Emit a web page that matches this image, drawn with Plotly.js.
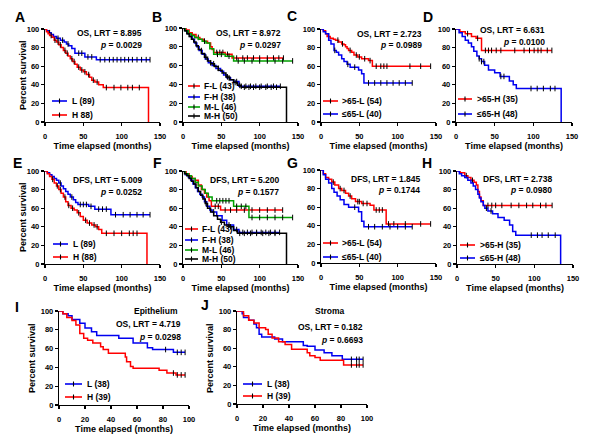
<!DOCTYPE html>
<html>
<head>
<meta charset="utf-8">
<script src="https://cdn.plot.ly/plotly-3.0.1.min.js"></script>
<style>
  html, body { margin: 0; padding: 0; background: #fff; }
  #chart { width: 600px; height: 439px; }
</style>
</head>
<body>
<div id="chart"></div>
<script>
// Kaplan-Meier step curves: time (months) / survival (%) / censor times

// A - OS, L vs H
const A_L_t = [0, 2, 5, 8, 11, 15, 20, 25, 28, 31, 35, 39, 52, 67, 137];
const A_L_s = [100, 98, 96, 94, 92, 90, 88, 86, 84, 82, 79, 74, 70, 67, 67];
const A_L_c = [6, 17, 23, 30, 44, 48, 56, 61, 72, 78, 84, 89, 94, 99, 104, 109, 114, 120, 126, 132, 137];
const A_H_t = [0, 2, 4, 6, 9, 12, 15, 18, 21, 24, 27, 30, 33, 36, 39, 42, 46, 50, 54, 58, 61, 65, 70, 76, 135];
const A_H_s = [100, 97, 95, 93, 91, 88, 86, 83, 80, 77, 74, 71, 68, 65, 62, 59, 56, 54, 51, 48, 45, 43, 40, 37, 0];
const A_H_c = [8, 13, 17, 20, 26, 29, 35, 38, 44, 48, 52, 57, 63, 68, 80, 90, 99, 108, 114, 123];

// B - OS, sex x level
const B_FL_t = [0, 4, 8, 12, 17, 22, 27, 32, 36, 38, 40, 55, 64, 131];
const B_FL_s = [100, 98, 95, 93, 90, 88, 86, 84, 80, 77, 74, 72, 68, 68];
const B_FL_c = [20, 44, 48, 52, 58, 70, 78, 84, 92, 100, 110, 118, 125, 131];
const B_FH_t = [0, 3, 6, 9, 12, 15, 18, 21, 25, 29, 33, 38, 43, 49, 53, 57, 62, 66, 73, 127];
const B_FH_s = [100, 97, 94, 91, 88, 84, 80, 76, 72, 67, 63, 60, 57, 54, 50, 47, 45, 43, 38, 38];
const B_FH_c = [24, 36, 46, 60, 70, 76, 82, 88, 95, 102, 110, 118, 127];
const B_ML_t = [0, 3, 7, 11, 15, 20, 25, 30, 35, 40, 55, 66, 143];
const B_ML_s = [100, 97, 94, 92, 90, 88, 86, 84, 78, 72, 70, 65, 65];
const B_ML_c = [28, 45, 50, 60, 72, 80, 90, 100, 110, 120, 130, 143];
const B_MH_t = [0, 2, 5, 8, 11, 14, 17, 20, 24, 28, 32, 36, 41, 46, 51, 56, 61, 66, 71, 76, 135];
const B_MH_s = [100, 97, 94, 91, 88, 85, 81, 77, 73, 69, 65, 62, 59, 55, 52, 48, 45, 42, 39, 37, 0];
const B_MH_c = [30, 40, 58, 68, 74, 80, 86, 92, 100, 108, 115, 122];

// C - OS, age within L
const C_R_t = [0, 3, 6, 8, 12, 16, 19, 23, 27, 30, 32, 34, 36, 40, 43, 48, 53, 62, 67, 143];
const C_R_s = [100, 98, 95, 92, 90, 89, 88, 86, 84, 83, 81, 79, 77, 75, 72, 70, 68, 66, 60, 60];
const C_R_c = [10, 22, 28, 38, 46, 50, 57, 64, 72, 78, 82, 86, 116, 130, 143];
const C_B_t = [0, 3, 6, 10, 13, 17, 20, 23, 27, 30, 34, 38, 49, 53, 56, 119];
const C_B_s = [100, 97, 95, 88, 84, 77, 75, 72, 68, 65, 62, 59, 56, 52, 42, 42];
const C_B_c = [18, 35, 44, 62, 70, 78, 86, 94, 102, 110, 119];

// D - OS, age within H
const D_R_t = [0, 5, 12, 20, 26, 33, 124];
const D_R_s = [100, 97, 95, 92, 90, 77, 77];
const D_R_c = [15, 28, 38, 42, 46, 52, 58, 76, 88, 95, 101, 106, 110, 118, 124];
const D_B_t = [0, 4, 8, 12, 16, 20, 23, 27, 30, 33, 37, 42, 50, 57, 69, 74, 78, 136];
const D_B_s = [100, 96, 92, 88, 85, 81, 76, 71, 68, 65, 61, 56, 53, 49, 44, 40, 36, 0];
const D_B_c = [30, 33, 36, 58, 62, 97, 105, 113, 122, 128];

// E - DFS, L vs H
const E_L_t = [0, 3, 6, 9, 12, 15, 18, 21, 24, 27, 30, 33, 37, 40, 43, 57, 65, 86, 137];
const E_L_s = [100, 98, 96, 94, 92, 90, 87, 84, 81, 78, 75, 72, 69, 66, 64, 62, 59, 53, 53];
const E_L_c = [20, 35, 46, 50, 54, 60, 70, 75, 80, 92, 102, 111, 120, 128, 137];
const E_H_t = [0, 3, 6, 9, 12, 15, 18, 21, 24, 27, 30, 34, 38, 42, 46, 50, 55, 61, 66, 70, 74, 133];
const E_H_s = [100, 97, 94, 91, 87, 84, 80, 76, 72, 67, 63, 60, 58, 55, 51, 47, 44, 42, 40, 37, 33, 0];
const E_H_c = [10, 16, 20, 26, 31, 36, 44, 53, 58, 64, 68, 80, 90, 100, 110, 115, 120];

// F - DFS, sex x level
const F_FL_t = [0, 4, 8, 12, 16, 20, 24, 28, 31, 34, 37, 49, 130];
const F_FL_s = [100, 97, 94, 92, 90, 85, 80, 76, 72, 68, 62, 58, 58];
const F_FL_c = [42, 46, 55, 62, 70, 80, 90, 100, 110, 120, 130];
const F_FH_t = [0, 3, 7, 10, 13, 16, 19, 22, 25, 28, 31, 35, 38, 44, 51, 57, 66, 73, 126];
const F_FH_s = [100, 96, 93, 90, 86, 82, 78, 75, 72, 67, 62, 58, 56, 52, 47, 42, 37, 34, 34];
const F_FH_c = [40, 60, 70, 78, 84, 90, 96, 102, 108, 114, 120, 126];
const F_ML_t = [0, 3, 7, 11, 16, 20, 25, 29, 33, 38, 66, 86, 143];
const F_ML_s = [100, 97, 95, 92, 88, 84, 80, 76, 72, 68, 62, 50, 50];
const F_ML_c = [44, 48, 52, 56, 60, 70, 76, 82, 90, 100, 110, 120, 130, 143];
const F_MH_t = [0, 2, 5, 8, 11, 14, 17, 20, 23, 26, 29, 32, 36, 40, 45, 49, 54, 60, 66, 71, 135];
const F_MH_s = [100, 97, 95, 92, 89, 86, 82, 78, 74, 70, 65, 60, 56, 52, 48, 45, 42, 40, 36, 33, 0];
const F_MH_c = [30, 50, 62, 74, 80, 88, 96, 104, 112, 120];

// G - DFS, age within L
const G_R_t = [0, 3, 6, 10, 14, 18, 23, 27, 32, 36, 40, 45, 53, 64, 69, 85, 143];
const G_R_s = [100, 96, 92, 90, 87, 84, 80, 78, 75, 72, 69, 66, 64, 62, 57, 42, 42];
const G_R_c = [16, 25, 30, 38, 48, 50, 55, 60, 72, 76, 80, 88, 95, 110, 130, 143];
const G_B_t = [0, 3, 6, 10, 14, 17, 21, 25, 30, 36, 49, 53, 56, 119];
const G_B_s = [100, 95, 90, 86, 80, 76, 72, 68, 63, 60, 55, 45, 39, 39];
const G_B_c = [44, 62, 70, 80, 90, 100, 110, 119];

// H - DFS, age within H
const H_R_t = [0, 4, 10, 14, 18, 22, 25, 27, 29, 31, 34, 123];
const H_R_s = [100, 98, 95, 93, 90, 88, 85, 78, 72, 68, 63, 63];
const H_R_c = [12, 20, 40, 45, 50, 58, 70, 80, 90, 98, 108, 115, 123];
const H_B_t = [0, 3, 6, 10, 14, 18, 21, 24, 27, 29, 31, 34, 36, 40, 46, 53, 61, 68, 72, 76, 134];
const H_B_s = [100, 97, 95, 93, 90, 87, 84, 80, 75, 71, 67, 63, 60, 57, 54, 50, 47, 42, 35, 31, 0];
const H_B_c = [38, 44, 96, 104, 110, 118, 127];

// I - Epithelium OS
const I_L_t = [0, 3, 7, 10, 16, 20, 25, 29, 46, 57, 68, 72, 88, 97];
const I_L_s = [100, 97, 95, 91, 87, 82, 78, 74, 71, 66, 61, 59, 56, 56];
const I_L_c = [82, 91, 94, 97];
const I_H_t = [0, 3, 6, 10, 13, 16, 19, 22, 26, 32, 34, 38, 51, 52, 55, 57, 77, 83, 90, 97];
const I_H_s = [100, 97, 93, 90, 85, 76, 71, 69, 66, 62, 59, 55, 51, 46, 41, 39, 37, 34, 32, 32];
const I_H_c = [88, 91, 94, 97];

// J - Stroma OS
const J_L_t = [0, 4, 5, 9, 13, 15, 17, 19, 29, 35, 51, 54, 60, 67, 73, 81, 97];
const J_L_s = [100, 97, 93, 90, 86, 82, 75, 72, 70, 67, 63, 62, 58, 55, 52, 48, 48];
const J_L_c = [88, 92, 94, 97];
const J_H_t = [0, 5, 9, 13, 17, 22, 24, 27, 32, 37, 42, 54, 56, 60, 64, 82, 97];
const J_H_s = [100, 95, 90, 87, 82, 80, 75, 71, 67, 64, 59, 55, 52, 50, 47, 42, 42];
const J_H_c = [88, 92, 94, 97];

// legend labels and statistics
const A_names = ['L (89)', 'H 88)'];
const B_names = ['F-L (43)', 'F-H (38)', 'M-L (46)', 'M-H (50)'];
const C_names = ['>65-L (54)', '≤65-L (40)'];
const D_names = ['>65-H (35)', '≤65-H (48)'];
const E_names = ['L (89)', 'H (88)'];
const F_names = B_names;
const G_names = C_names;
const H_names = D_names;
const I_names = ['L (38)', 'H (39)'];
const J_names = I_names;

const stats = [
  ['OS, LRT = 8.895', '0.0029'], ['OS, LRT = 8.972', '0.0297'],
  ['OS, LRT = 2.723', '0.0989'], ['OS, LRT = 6.631', '0.0100'],
  ['DFS, LRT = 5.009', '0.0252'], ['DFS, LRT = 5.200', '0.1577'],
  ['DFS, LRT = 1.845', '0.1744'], ['DFS, LRT = 2.738', '0.0980'],
  ['OS, LRT = 4.719', '0.0298'], ['OS, LRT = 0.182', '0.6693']
];

const RED = '#ff0000', BLUE = '#0000f0', GREEN = '#00a000', BLACK = '#000000';
const FONT = 'Liberation Sans, Arial, sans-serif';
const W = 600, H = 439;
const px = x => x / W;
const py = y => 1 - y / H;

const panels = [
  {letter: 'A', lp: [20, 17], box: [45, 160, 29, 122], xmax: 150, xdt: 50, yt: [23, 75],
   series: [[A_L_t, A_L_s, A_L_c, BLUE], [A_H_t, A_H_s, A_H_c, RED]], names: A_names,
   leg: [52, 67, 70, [101, 115]], st: [144, 33, 45]},
  {letter: 'B', lp: [157, 17], box: [183, 298, 28, 122], xmax: 150, xdt: 50,
   series: [[B_FL_t, B_FL_s, B_FL_c, RED], [B_FH_t, B_FH_s, B_FH_c, BLUE],
            [B_ML_t, B_ML_s, B_ML_c, GREEN], [B_MH_t, B_MH_s, B_MH_c, BLACK]], names: B_names,
   leg: [188, 200, 202, [86, 97, 107, 116]], st: [283, 33, 45]},
  {letter: 'C', lp: [292, 16], box: [321, 436, 29, 122], xmax: 150, xdt: 50,
   series: [[C_R_t, C_R_s, C_R_c, RED], [C_B_t, C_B_s, C_B_c, BLUE]], names: C_names,
   leg: [323, 338, 340, [101, 114]], st: [424, 34, 45]},
  {letter: 'D', lp: [428, 17], box: [456, 572, 29, 122], xmax: 150, xdt: 50,
   series: [[D_R_t, D_R_s, D_R_c, RED], [D_B_t, D_B_s, D_B_c, BLUE]], names: D_names,
   leg: [458, 472, 475, [99, 114]], st: [547, 30, 42]},
  {letter: 'E', lp: [17, 163], box: [45, 160, 171, 264], xmax: 150, xdt: 50, yt: [23, 217],
   series: [[E_L_t, E_L_s, E_L_c, BLUE], [E_H_t, E_H_s, E_H_c, RED]], names: E_names,
   leg: [53, 68, 71, [244, 257]], st: [144, 180, 192]},
  {letter: 'F', lp: [157, 163], box: [183, 298, 171, 264], xmax: 150, xdt: 50,
   series: [[F_FL_t, F_FL_s, F_FL_c, RED], [F_FH_t, F_FH_s, F_FH_c, BLUE],
            [F_ML_t, F_ML_s, F_ML_c, GREEN], [F_MH_t, F_MH_s, F_MH_c, BLACK]], names: F_names,
   leg: [185, 198, 200, [229, 240, 250, 259]], st: [281, 180, 192]},
  {letter: 'G', lp: [292, 163], box: [321, 436, 170, 263], xmax: 150, xdt: 50,
   series: [[G_R_t, G_R_s, G_R_c, RED], [G_B_t, G_B_s, G_B_c, BLUE]], names: G_names,
   leg: [323, 338, 340, [243, 257]], st: [422, 179, 190]},
  {letter: 'H', lp: [427, 163], box: [457, 573, 171, 264], xmax: 150, xdt: 50,
   series: [[H_R_t, H_R_s, H_R_c, RED], [H_B_t, H_B_s, H_B_c, BLUE]], names: H_names,
   leg: [460, 475, 478, [245, 258]], st: [554, 179, 190]},
  {letter: 'I', lp: [17, 307], box: [59, 189, 311, 405], xmax: 100, xdt: 20, yt: [32, 358],
   series: [[I_L_t, I_L_s, I_L_c, BLUE], [I_H_t, I_H_s, I_H_c, RED]], names: I_names,
   leg: [65, 82, 85, [384, 397]], st: [183, 324, 337], head: ['Epithelium', 156, 311]},
  {letter: 'J', lp: [205, 305], box: [237, 367, 311, 404], xmax: 100, xdt: 20, yt: [210, 358],
   series: [[J_L_t, J_L_s, J_L_c, BLUE], [J_H_t, J_H_s, J_H_c, RED]], names: J_names,
   leg: [243, 262, 265, [384, 396]], st: [365, 327, 340], head: ['Stroma', 330, 311]}
];

function survAt(t, ts, ss) {
  let v = ss[0];
  for (let i = 0; i < ts.length; i++) { if (ts[i] <= t) v = ss[i]; }
  return v;
}

const traces = [];
const layout = {
  width: W, height: H,
  margin: {l: 0, r: 0, t: 0, b: 0},
  paper_bgcolor: '#fff', plot_bgcolor: 'rgba(0,0,0,0)',
  showlegend: false,
  font: {family: FONT, color: '#000', weight: 'bold'},
  annotations: [], shapes: []
};

function note(text, x, y, xanchor, size, extra) {
  return Object.assign({text: '<b>' + text + '</b>', xref: 'paper', yref: 'paper',
    x: px(x), y: py(y), xanchor: xanchor, yanchor: 'middle', showarrow: false,
    font: {size: size, family: FONT, color: '#000'}}, extra || {});
}

panels.forEach((p, i) => {
  const sfx = i === 0 ? '' : String(i + 1);
  const b = p.box;
  layout['xaxis' + sfx] = {
    domain: [px(b[0]), px(b[1])], range: [0, p.xmax], anchor: 'y' + sfx,
    tick0: 0, dtick: p.xdt, ticks: 'outside', ticklen: 3, tickwidth: 1.2, tickcolor: '#000',
    showline: true, linecolor: '#000', linewidth: 1.2, showgrid: false, zeroline: false,
    ticklabelstandoff: 4,
    tickfont: {family: FONT, size: 7.5, weight: 'bold'},
    title: {text: 'Time elapsed (months)', font: {family: FONT, size: 9, weight: 'bold'}, standoff: 2}
  };
  layout['yaxis' + sfx] = {
    domain: [py(b[3]), py(b[2])], range: [0, 100], anchor: 'x' + sfx,
    tick0: 0, dtick: 20, ticks: 'outside', ticklen: 3, tickwidth: 1.2, tickcolor: '#000',
    showline: true, linecolor: '#000', linewidth: 1.2, showgrid: false, zeroline: false,
    tickfont: {family: FONT, size: 7.5, weight: 'bold'}
  };

  p.series.forEach(([t, s, c, col]) => {
    traces.push({
      type: 'scatter', mode: 'lines', x: t, y: s, xaxis: 'x' + sfx, yaxis: 'y' + sfx,
      line: {shape: 'hv', color: col, width: 1.5}, cliponaxis: false, hoverinfo: 'skip'
    });
    traces.push({
      type: 'scatter', mode: 'markers', x: c, y: c.map(v => survAt(v, t, s)),
      xaxis: 'x' + sfx, yaxis: 'y' + sfx, cliponaxis: false, hoverinfo: 'skip',
      marker: {symbol: 'line-ns', size: 4, color: '#000', line: {width: 1, color: '#000'}}
    });
  });

  // y title (Percent survival) on the first panel of each row
  if (p.yt) {
    layout.annotations.push(note('Percent survival', p.yt[0], p.yt[1], 'center', 9, {textangle: -90}));
  }

  // panel letter
  layout.annotations.push(note(p.letter, p.lp[0], p.lp[1], 'center', 14));

  // statistics
  const [sx, sy1, sy2] = p.st;
  layout.annotations.push(note(stats[i][0], sx, sy1, 'right', 8.5));
  layout.annotations.push(note('<i>p</i> = ' + stats[i][1], sx, sy2, 'right', 8.5));
  if (p.head) layout.annotations.push(note(p.head[0], p.head[1], p.head[2], 'center', 8.5));

  // legend drawn by hand (line with censor tick)
  const [lx0, lx1, tx, ys] = p.leg;
  ys.forEach((y, k) => {
    const col = p.series[k][3];
    layout.shapes.push({type: 'line', xref: 'paper', yref: 'paper',
      x0: px(lx0), x1: px(lx1), y0: py(y), y1: py(y), line: {color: col, width: 1.6}});
    const mid = (lx0 + lx1) / 2;
    layout.shapes.push({type: 'line', xref: 'paper', yref: 'paper',
      x0: px(mid), x1: px(mid), y0: py(y - 2.5), y1: py(y + 2.5), line: {color: '#000', width: 1.1}});
    layout.annotations.push(note(p.names[k], tx, y, 'left', 8.5));
  });
});

Plotly.newPlot('chart', traces, layout, {displayModeBar: false, staticPlot: true});
</script>
</body>
</html>
